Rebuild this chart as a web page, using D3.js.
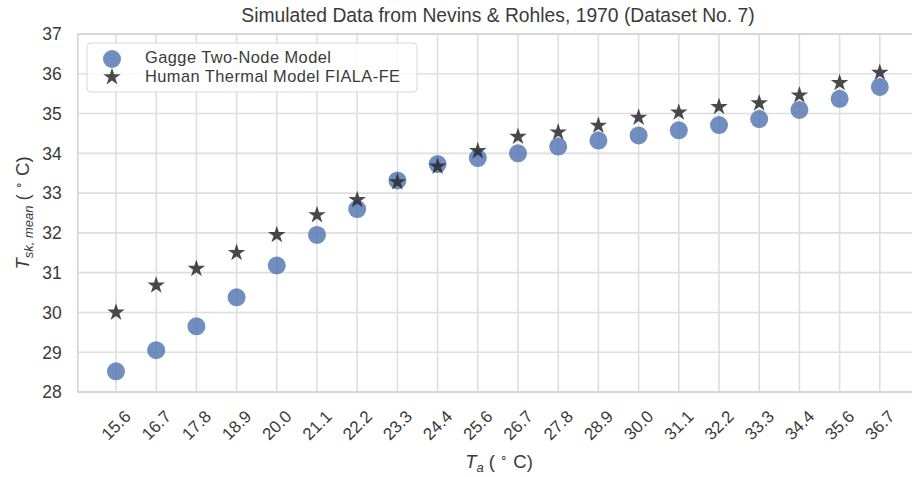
<!DOCTYPE html>
<html><head><meta charset="utf-8">
<script src="https://cdn.jsdelivr.net/npm/d3@7"></script>
<style>body{margin:0;background:#fff}svg{display:block;font-family:"Liberation Sans",Arial,sans-serif}</style>
</head><body><svg id="c" width="912" height="477"></svg>
<script>
const categories = ["15.6","16.7","17.8","18.9","20.0","21.1","22.2","23.3","24.4","25.6","26.7","27.8","28.9","30.0","31.1","32.2","33.3","34.4","35.6","36.7"];
const gagge = [28.52,29.05,29.65,30.38,31.18,31.95,32.6,33.32,33.73,33.88,34.0,34.17,34.32,34.45,34.58,34.71,34.86,35.09,35.37,35.67];
const fiala = [30.0,30.68,31.1,31.5,31.95,32.45,32.83,33.28,33.67,34.06,34.42,34.53,34.7,34.9,35.03,35.17,35.26,35.46,35.77,36.03];
const yTicks = [28,29,30,31,32,33,34,35,36,37];

const svg = d3.select("#c");
const L = 77.8, R = 918, T = 34, B = 392;
const x = d3.scaleLinear().domain([-0.95, categories.length - 1 + 0.95]).range([L, R]);
const y = d3.scaleLinear().domain([28, 37]).range([B, T]);
const grid = "#dedede", txt = "#3a3a3a";

// grid
svg.append("g").selectAll("line").data(yTicks).join("line")
  .attr("x1", L).attr("x2", R).attr("y1", d => y(d)).attr("y2", d => y(d))
  .attr("stroke", grid).attr("stroke-width", 1.6);
svg.append("g").selectAll("line").data(categories).join("line")
  .attr("x1", (d,i) => x(i)).attr("x2", (d,i) => x(i)).attr("y1", T).attr("y2", B)
  .attr("stroke", grid).attr("stroke-width", 1.6);
// spines
svg.append("rect").attr("x", L).attr("y", T).attr("width", R - L).attr("height", B - T)
  .attr("fill", "none").attr("stroke", "#d4d4d4").attr("stroke-width", 1.6);

// y ticks
svg.append("g").selectAll("text").data(yTicks).join("text")
  .attr("x", L - 16).attr("y", d => y(d)).attr("dy", "0.36em").attr("text-anchor", "end")
  .attr("font-size", 17.5).attr("fill", txt).text(d => d);
// x ticks
svg.append("g").selectAll("text").data(categories).join("text")
  .attr("transform", (d,i) => `translate(${x(i)},${B + 33}) rotate(-45)`)
  .attr("text-anchor", "middle").attr("dy", "0.35em")
  .attr("font-size", 17).attr("fill", txt).text(d => d);

// points
svg.append("g").selectAll("circle").data(gagge).join("circle")
  .attr("cx", (d,i) => x(i)).attr("cy", d => y(d)).attr("r", 9)
  .attr("fill", "#4C72B0").attr("fill-opacity", 0.8);
const star = d3.symbol().type(d3.symbolStar).size(95);
svg.append("g").selectAll("path").data(fiala).join("path")
  .attr("d", star).attr("transform", (d,i) => `translate(${x(i)},${y(d)})`)
  .attr("fill", "#2a2a2a").attr("fill-opacity", 0.85);

// title
svg.append("text").attr("x", 498).attr("y", 22).attr("text-anchor", "middle")
  .attr("font-size", 19.3).attr("fill", txt).text("Simulated Data from Nevins & Rohles, 1970 (Dataset No. 7)");

// x label
const xl = svg.append("text").attr("x", 499).attr("y", 468).attr("text-anchor", "middle")
  .attr("font-size", 18.5).attr("fill", txt);
xl.append("tspan").attr("font-style", "italic").text("T");
xl.append("tspan").attr("font-style", "italic").attr("font-size", 13).attr("dy", 4).text("a");
xl.append("tspan").attr("dy", -4).text(" ( ");
xl.append("tspan").attr("font-size", 12).attr("dy", -6).text("∘");
xl.append("tspan").attr("dy", 6).text(" C)");

// y label
const yl = svg.append("text").attr("transform", "translate(29,213) rotate(-90)").attr("text-anchor", "middle")
  .attr("font-size", 18.5).attr("fill", txt);
yl.append("tspan").attr("font-style", "italic").text("T");
yl.append("tspan").attr("font-style", "italic").attr("font-size", 13).attr("dy", 4).text("sk, mean");
yl.append("tspan").attr("dy", -4).text(" ( ");
yl.append("tspan").attr("font-size", 12).attr("dy", -6).text("∘");
yl.append("tspan").attr("dy", 6).text(" C)");

// legend
const lg = svg.append("g");
lg.append("rect").attr("x", 87).attr("y", 43).attr("width", 330).attr("height", 49).attr("rx", 4)
  .attr("fill", "#fff").attr("fill-opacity", 0.85).attr("stroke", "#d8d8d8");
lg.append("circle").attr("cx", 112).attr("cy", 59).attr("r", 9).attr("fill", "#4C72B0").attr("fill-opacity", 0.8);
lg.append("path").attr("d", star).attr("transform", "translate(112,77)").attr("fill", "#2a2a2a").attr("fill-opacity", 0.85);
lg.append("text").attr("x", 145).attr("y", 57.5).attr("dy", "0.35em").attr("font-size", 16.4).attr("letter-spacing", 0.45).attr("fill", txt).text("Gagge Two-Node Model");
lg.append("text").attr("x", 145).attr("y", 76.5).attr("dy", "0.35em").attr("font-size", 16.4).attr("letter-spacing", 0.45).attr("fill", txt).text("Human Thermal Model FIALA-FE");
</script></body></html>
